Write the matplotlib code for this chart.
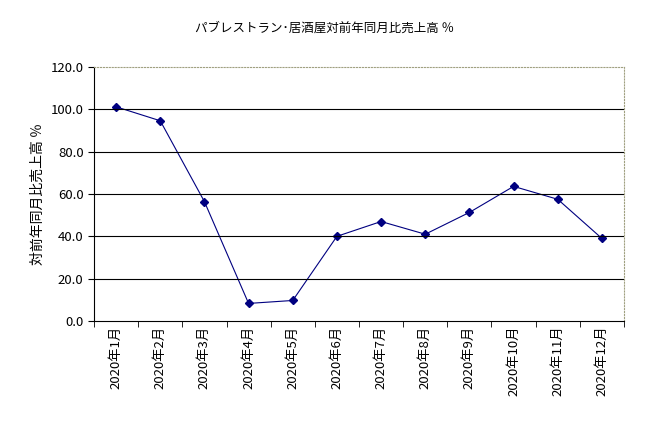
import matplotlib.pyplot as plt

months = [f"2020年{m}月" for m in range(1, 13)]
values = [101.2, 94.6, 56.4, 8.3, 9.7, 40.0, 47.0, 41.0, 51.3, 63.6, 57.5, 39.0]
yticks = [0, 20, 40, 60, 80, 100, 120]

plt.rcParams["font.family"] = "Noto Sans CJK JP"

fig = plt.figure(figsize=(6.49, 4.30), dpi=100)
ax = fig.add_axes([94 / 649, 1 - 321 / 430, 530 / 649, 254 / 430])
x = range(len(months))
ax.plot(x, values, color="#000080", lw=0.8, marker="D", ms=4)
ax.set_xlim(-0.5, len(months) - 0.5)
ax.set_ylim(0, 120)
ax.set_yticks(yticks)
ax.set_yticklabels([f"{v:.1f}" for v in yticks], fontsize=9.5)
# labels at category centres, tick marks at category boundaries
ax.set_xticks(list(x))
ax.set_xticklabels(months, rotation=90, fontsize=9.5)
ax.tick_params(axis="x", which="major", length=0)
ax.set_xticks([i - 0.5 for i in range(len(months) + 1)], minor=True)
ax.tick_params(axis="x", which="minor", length=4)
ax.tick_params(axis="y", length=4)
for v in yticks[1:-1]:
    ax.axhline(v, color="black", lw=0.8)
for s in ["top", "right"]:
    ax.spines[s].set_color("#a0a080")
    ax.spines[s].set_linestyle(":")
ax.set_ylabel("対前年同月比売上高 ％", fontsize=10)
fig.text(0.5, 1 - 28 / 430, "パブレストラン･居酒屋対前年同月比売上高 ％", ha="center", va="center", fontsize=9)
fig.savefig("out.png", dpi=100)
